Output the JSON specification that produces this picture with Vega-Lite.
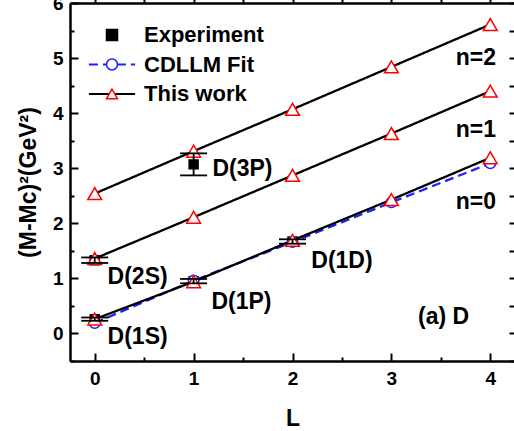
{
  "$schema": "https://vega.github.io/schema/vega-lite/v6.json",
  "width": 445,
  "height": 358,
  "autosize": {"type": "none"},
  "padding": {"left": 70, "top": 3, "right": 0, "bottom": 70},
  "background": "white",
  "config": {
    "view": {"stroke": null},
    "font": "Liberation Sans",
    "axis": {
      "labelFont": "Liberation Sans", "labelFontWeight": "bold", "labelFontSize": 19, "labelColor": "black",
      "titleFont": "Liberation Sans", "titleFontWeight": "bold", "titleFontSize": 23, "titleColor": "black",
      "domainColor": "black", "domainWidth": 2.5, "tickColor": "black", "tickWidth": 2, "grid": false
    },
    "legend": {
      "labelFont": "Liberation Sans", "labelFontWeight": "bold", "labelFontSize": 22, "labelColor": "black",
      "padding": 0
    }
  },
  "datasets": {
    "pts": [
      {"series": "Experiment", "name": "D(1S)", "n": 0, "L": 0, "y": 0.26, "lo": 0.23, "hi": 0.29},
      {"series": "Experiment", "name": "D(2S)", "n": 1, "L": 0, "y": 1.33, "lo": 1.28, "hi": 1.38},
      {"series": "Experiment", "name": "D(1P)", "n": 0, "L": 1, "y": 0.95, "lo": 0.91, "hi": 0.99},
      {"series": "Experiment", "name": "D(1D)", "n": 0, "L": 2, "y": 1.67, "lo": 1.63, "hi": 1.71},
      {"series": "Experiment", "name": "D(3P)", "n": 2, "L": 1, "y": 3.07, "lo": 2.87, "hi": 3.27},
      {"series": "CDLLM Fit", "n": 0, "L": 0, "y": 0.19},
      {"series": "CDLLM Fit", "n": 0, "L": 1, "y": 0.96},
      {"series": "CDLLM Fit", "n": 0, "L": 2, "y": 1.66},
      {"series": "CDLLM Fit", "n": 0, "L": 3, "y": 2.38},
      {"series": "CDLLM Fit", "n": 0, "L": 4, "y": 3.09},
      {"series": "This work", "n": 0, "L": 0, "y": 0.26},
      {"series": "This work", "n": 0, "L": 1, "y": 0.94},
      {"series": "This work", "n": 0, "L": 2, "y": 1.69},
      {"series": "This work", "n": 0, "L": 3, "y": 2.43},
      {"series": "This work", "n": 0, "L": 4, "y": 3.19},
      {"series": "This work", "n": 1, "L": 0, "y": 1.36},
      {"series": "This work", "n": 1, "L": 1, "y": 2.11},
      {"series": "This work", "n": 1, "L": 2, "y": 2.87},
      {"series": "This work", "n": 1, "L": 3, "y": 3.63},
      {"series": "This work", "n": 1, "L": 4, "y": 4.40},
      {"series": "This work", "n": 2, "L": 0, "y": 2.54},
      {"series": "This work", "n": 2, "L": 1, "y": 3.31},
      {"series": "This work", "n": 2, "L": 2, "y": 4.07},
      {"series": "This work", "n": 2, "L": 3, "y": 4.84},
      {"series": "This work", "n": 2, "L": 4, "y": 5.61}
    ],
    "labels": [
      {"text": "D(1S)", "L": 0.13, "y": -0.06},
      {"text": "D(2S)", "L": 0.13, "y": 1.03},
      {"text": "D(1P)", "L": 1.18, "y": 0.58},
      {"text": "D(1D)", "L": 2.19, "y": 1.32},
      {"text": "D(3P)", "L": 1.19, "y": 2.99},
      {"text": "n=2", "L": 3.65, "y": 5.0},
      {"text": "n=1", "L": 3.65, "y": 3.70},
      {"text": "n=0", "L": 3.65, "y": 2.38},
      {"text": "(a) D", "L": 3.27, "y": 0.29}
    ]
  },
  "layer": [
    {
      "data": {"name": "pts"},
      "layer": [
        {
          "transform": [{"filter": "datum.series === 'CDLLM Fit'"}],
          "mark": {"type": "line", "strokeWidth": 2.3},
          "encoding": {
            "x": {"field": "L", "type": "quantitative", "scale": {"domain": [-0.25, 4.25], "nice": false, "zero": false}, "axis": null},
            "y": {"field": "y", "type": "quantitative", "scale": {"domain": [-0.5, 6], "nice": false, "zero": false}, "axis": null},
            "detail": {"field": "n"},
            "color": {"field": "series", "type": "nominal", "scale": {"domain": ["CDLLM Fit", "This work"], "range": ["#1f1fff", "black"]},
              "legend": {"orient": "none", "legendX": 31, "legendY": 50.5, "title": null, "labelExpr": "''", "symbolType": "M-4.2,0L4.2,0", "symbolSize": 121, "symbolStrokeWidth": 2.2, "rowPadding": 7.5, "zindex": 1}},
            "strokeDash": {"field": "series", "type": "nominal", "scale": {"domain": ["CDLLM Fit", "This work"], "range": [[9, 5], [1, 0]]},
              "legend": {"orient": "none", "legendX": 31, "legendY": 50.5, "title": null, "labelExpr": "''", "symbolType": "M-4.2,0L4.2,0", "symbolSize": 121, "symbolStrokeWidth": 2.2, "rowPadding": 7.5, "zindex": 1}}
          }
        },
        {
          "transform": [{"filter": "datum.series === 'This work'"}],
          "mark": {"type": "line", "strokeWidth": 2.3},
          "encoding": {
            "x": {"field": "L", "type": "quantitative", "axis": null},
            "y": {"field": "y", "type": "quantitative", "axis": null},
            "detail": {"field": "n"},
            "color": {"field": "series", "type": "nominal"},
            "strokeDash": {"field": "series", "type": "nominal"}
          }
        },
        {
          "transform": [{"filter": "datum.series === 'Experiment'"}],
          "mark": {"type": "point", "size": 80, "strokeWidth": 1.5, "opacity": 1},
          "encoding": {
            "x": {"field": "L", "type": "quantitative", "axis": null},
            "y": {"field": "y", "type": "quantitative", "axis": null},
            "shape": {"field": "series", "type": "nominal", "scale": {"domain": ["Experiment", "CDLLM Fit", "This work"], "range": ["square", "circle", "triangle-up"]},
              "legend": {"orient": "none", "legendX": 31, "legendY": 21, "title": null, "symbolSize": 121, "symbolStrokeWidth": 1.5, "rowPadding": 7.5, "labelOffset": 21, "zindex": 2}},
            "stroke": {"field": "series", "type": "nominal", "scale": {"domain": ["Experiment", "CDLLM Fit", "This work"], "range": ["black", "#1f1fff", "#ff0000"]},
              "legend": {"orient": "none", "legendX": 31, "legendY": 21, "title": null, "symbolSize": 121, "symbolStrokeWidth": 1.5, "rowPadding": 7.5, "labelOffset": 21, "zindex": 2}},
            "fill": {"field": "series", "type": "nominal", "scale": {"domain": ["Experiment", "CDLLM Fit", "This work"], "range": ["black", "white", "white"]},
              "legend": {"orient": "none", "legendX": 31, "legendY": 21, "title": null, "symbolSize": 121, "symbolStrokeWidth": 1.5, "rowPadding": 7.5, "labelOffset": 21, "zindex": 2}}
          }
        },
        {
          "transform": [{"filter": "datum.series === 'CDLLM Fit'"}],
          "mark": {"type": "point", "size": 110, "strokeWidth": 1.5, "opacity": 1},
          "encoding": {
            "x": {"field": "L", "type": "quantitative", "axis": null},
            "y": {"field": "y", "type": "quantitative", "axis": null},
            "shape": {"field": "series", "type": "nominal"},
            "stroke": {"field": "series", "type": "nominal"},
            "fill": {"field": "series", "type": "nominal"}
          }
        },
        {
          "transform": [{"filter": "datum.series === 'This work'"}],
          "mark": {"type": "point", "size": 190, "strokeWidth": 1.5, "opacity": 1},
          "encoding": {
            "x": {"field": "L", "type": "quantitative", "axis": null},
            "y": {"field": "y", "type": "quantitative", "axis": null},
            "shape": {"field": "series", "type": "nominal"},
            "stroke": {"field": "series", "type": "nominal"},
            "fill": {"field": "series", "type": "nominal"}
          }
        },
        {
          "transform": [{"filter": "datum.series === 'Experiment'"}],
          "mark": {"type": "rule", "color": "black", "strokeWidth": 1.8},
          "encoding": {
            "x": {"field": "L", "type": "quantitative", "axis": null},
            "y": {"field": "lo", "type": "quantitative", "axis": null},
            "y2": {"field": "hi"}
          }
        },
        {
          "transform": [{"filter": "datum.series === 'Experiment'"}],
          "mark": {"type": "tick", "orient": "horizontal", "color": "black", "size": 27, "thickness": 1.8, "opacity": 1},
          "encoding": {
            "x": {"field": "L", "type": "quantitative", "axis": null},
            "y": {"field": "lo", "type": "quantitative", "axis": null}
          }
        },
        {
          "transform": [{"filter": "datum.series === 'Experiment'"}],
          "mark": {"type": "tick", "orient": "horizontal", "color": "black", "size": 27, "thickness": 1.8, "opacity": 1},
          "encoding": {
            "x": {"field": "L", "type": "quantitative", "axis": null},
            "y": {"field": "hi", "type": "quantitative", "axis": null}
          }
        },
        {
          "data": {"name": "labels"},
          "mark": {"type": "text", "align": "left", "baseline": "middle", "font": "Liberation Sans", "fontWeight": "bold", "fontSize": 23, "color": "black"},
          "encoding": {
            "x": {"field": "L", "type": "quantitative", "axis": null},
            "y": {"field": "y", "type": "quantitative", "axis": null},
            "text": {"field": "text"}
          }
        }
      ]
    },
    {
      "data": {"name": "pts"},
      "mark": {"type": "point", "opacity": 0},
      "encoding": {
        "x": {"field": "L", "type": "quantitative", "title": "L",
          "axis": {"orient": "bottom", "values": [0, 0.5, 1, 1.5, 2, 2.5, 3, 3.5, 4],
            "labelExpr": "datum.value % 1 === 0 ? format(datum.value, 'd') : ''",
            "tickSize": {"condition": {"test": "datum.value % 1 === 0", "value": -8}, "value": -4},
            "labelPadding": 16, "titlePadding": 19}},
        "y": {"field": "y", "type": "quantitative", "title": "(M-Mᴄ)²(GeV²)",
          "axis": {"orient": "left", "values": [-0.5, 0, 0.5, 1, 1.5, 2, 2.5, 3, 3.5, 4, 4.5, 5, 5.5, 6],
            "labelExpr": "datum.value % 1 === 0 ? format(datum.value, 'd') : ''",
            "tickSize": {"condition": {"test": "datum.value % 1 === 0", "value": -8}, "value": -4},
            "labelPadding": 15, "titlePadding": 12}}
      }
    },
    {
      "data": {"name": "pts"},
      "mark": {"type": "point", "opacity": 0},
      "encoding": {
        "x": {"field": "L", "type": "quantitative",
          "axis": {"orient": "top", "title": null, "labels": false, "values": [0, 0.5, 1, 1.5, 2, 2.5, 3, 3.5, 4], "tickSize": 4}},
        "y": {"field": "y", "type": "quantitative",
          "axis": {"orient": "right", "title": null, "labels": false, "values": [-0.5, 0, 0.5, 1, 1.5, 2, 2.5, 3, 3.5, 4, 4.5, 5, 5.5, 6], "tickSize": -6}}
      }
    }
  ],
  "resolve": {"axis": {"x": "independent", "y": "independent"}}
}
